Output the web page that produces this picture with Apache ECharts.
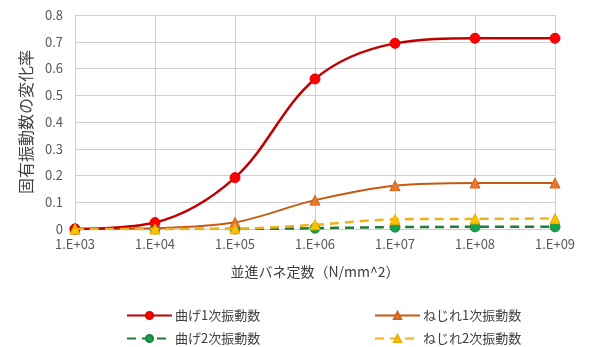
<!DOCTYPE html>
<html>
<head>
<meta charset="utf-8">
<script src="https://cdn.jsdelivr.net/npm/echarts@6/dist/echarts.min.js"></script>
<style>
  html, body { margin: 0; padding: 0; background: #fff; }
  #chart { width: 609px; height: 347px; }
</style>
</head>
<body>
<div id="chart"></div>
<script>
// Spring constant (N/mm^2), log scale
const springConst = [1e3, 1e4, 1e5, 1e6, 1e7, 1e8, 1e9];

// Rate of change of natural frequency
const bend1 = [0.000, 0.024, 0.192, 0.561, 0.694, 0.713, 0.713];
const twist1 = [0.000, 0.003, 0.025, 0.108, 0.162, 0.172, 0.172];
const bend2 = [0.000, 0.000, 0.000, 0.003, 0.007, 0.008, 0.008];
const twist2 = [0.000, 0.000, 0.001, 0.016, 0.036, 0.038, 0.039];

const seriesNames = ['曲げ1次振動数', 'ねじれ1次振動数', '曲げ2次振動数', 'ねじれ2次振動数'];
const yTicks = ['0', '0.1', '0.2', '0.3', '0.4', '0.5', '0.6', '0.7', '0.8'];

const FONT = '"Noto Sans CJK JP", "Noto Sans", sans-serif';
const pair = vals => springConst.map((x, i) => [x, vals[i]]);

// one legend entry per slot, laid out as a 2x2 block
const legendSlots = [[121, 304], [369, 304], [121, 327], [369, 327]];
const legends = seriesNames.map((name, i) => ({
  left: legendSlots[i][0], top: legendSlots[i][1],
  itemWidth: 45, itemHeight: 9, itemGap: 4,
  textStyle: { fontSize: 13, color: '#404040', fontFamily: FONT, padding: [0, 0, 0, -2] },
  data: [name]
}));

const chart = echarts.init(document.getElementById('chart'));
chart.setOption({
  animation: false,
  textStyle: { fontFamily: FONT },
  grid: { left: 75, right: 54, top: 15, bottom: 118 },
  xAxis: {
    type: 'log',
    logBase: 10,
    min: 1e3,
    max: 1e9,
    interval: 1,
    name: '並進バネ定数（N/mm^2）',
    nameLocation: 'middle',
    nameGap: 36,
    nameTextStyle: { fontSize: 14, color: '#404040', fontFamily: FONT },
    axisLine: { show: true, lineStyle: { color: '#d0d0d0' } },
    axisTick: { show: false },
    splitLine: { show: true, lineStyle: { color: '#d0d0d0', width: 1 } },
    minorTick: { show: false },
    axisLabel: {
      color: '#595959',
      fontSize: 13,
      fontFamily: FONT,
      margin: 9,
      formatter: v => {
        const e = Math.round(Math.log10(v));
        return '1.E+' + (e < 10 ? '0' + e : e);
      }
    }
  },
  yAxis: {
    type: 'value',
    min: 0,
    max: 0.8,
    interval: 0.1,
    name: '固有振動数の変化率',
    nameLocation: 'middle',
    nameRotate: 90,
    nameGap: 38,
    nameTextStyle: { fontSize: 16, color: '#404040', fontFamily: FONT },
    axisLine: { show: true, lineStyle: { color: '#d0d0d0' } },
    axisTick: { show: false },
    splitLine: { show: true, lineStyle: { color: '#d0d0d0', width: 1 } },
    axisLabel: {
      color: '#595959',
      fontSize: 13,
      fontFamily: FONT,
      margin: 12,
      formatter: (v) => yTicks[Math.round(v * 10)]
    }
  },
  legend: legends,
  series: [
    {
      name: seriesNames[0], type: 'line', smooth: 0.35,
      data: pair(bend1),
      symbol: 'circle', symbolSize: 10,
      lineStyle: { color: '#C00000', width: 2.5 },
      itemStyle: { color: '#FF0000', borderColor: '#E00000', borderWidth: 1 },
      z: 4
    },
    {
      name: seriesNames[1], type: 'line', smooth: 0.35,
      data: pair(twist1),
      symbol: 'triangle', symbolSize: 10,
      lineStyle: { color: '#C55A11', width: 2 },
      itemStyle: { color: '#E8782C', borderColor: '#D06520', borderWidth: 1 },
      z: 3
    },
    {
      name: seriesNames[2], type: 'line', smooth: 0.35,
      data: pair(bend2),
      symbol: 'circle', symbolSize: 10,
      lineStyle: { color: '#1E7B3A', width: 2.5, type: [9, 6] },
      itemStyle: { color: '#1AA04A', borderColor: '#168a3f', borderWidth: 1 },
      z: 2
    },
    {
      name: seriesNames[3], type: 'line', smooth: 0.35,
      data: pair(twist2),
      symbol: 'triangle', symbolSize: 10,
      lineStyle: { color: '#F0B21A', width: 2.5, type: [9, 6] },
      itemStyle: { color: '#FFC000', borderColor: '#EEB000', borderWidth: 1 },
      z: 5
    }
  ]
});
</script>
</body>
</html>
